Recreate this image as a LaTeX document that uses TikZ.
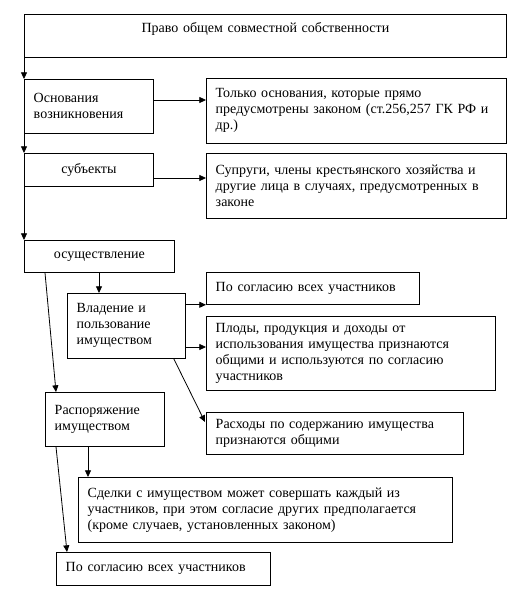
\documentclass[tikz,border=0pt]{standalone}
\usepackage{fontspec}
\setmainfont{Liberation Serif}
\usetikzlibrary{arrows.meta,calc}
\tikzset{
  box/.style={draw, line width=0.6pt, anchor=north west, inner xsep=7pt, inner ysep=2pt,
    align=left, font=\fontsize{10.5}{12}\selectfont},
  arr/.style={line width=0.6pt, -{Triangle[length=5pt,width=4.5pt]}}
}
\begin{document}
\begin{tikzpicture}[x=0.75pt,y=-0.75pt]
    \useasboundingbox (0,0) rectangle (525,599);
    % Title
    \node[box, align=center, text width=347.5pt, minimum height=32.25pt] (top) at (24,14)
        {Право общем совместной собственности\\ \mbox{}};
    % Left column
    \node[box, text width=82.75pt, minimum height=40.5pt] (osn) at (24,79) {Основания\\возникновения};
    \node[box, align=center, text width=82.75pt, minimum height=24.75pt] (subj) at (24,153) {субъекты};
    \node[box, align=center, text width=98.5pt, minimum height=24pt] (osush) at (24,240) {осуществление};
    \node[box, text width=74.5pt, minimum height=48.75pt] (vlad) at (67,293) {Владение и\\пользование\\имуществом};
    \node[box, text width=75.25pt, minimum height=40.5pt] (rasp) at (45,392) {Распоряжение\\имуществом};
    % Right column
    \node[box, text width=211pt, minimum height=48.75pt] (tolko) at (206,78)
        {Только основания, которые прямо\\предусмотрены законом (ст.256,257 ГК РФ и\\др.)};
    \node[box, text width=211pt, minimum height=48.75pt] (supr) at (206,153)
        {Супруги, члены крестьянского хозяйства и\\другие лица в случаях, предусмотренных в\\законе};
    \node[box, text width=145.75pt, minimum height=24pt] (soglas) at (206,272) {По согласию всех участников};
    \node[box, text width=202.75pt, minimum height=55.5pt] (plody) at (206,316)
        {Плоды, продукция и доходы от\\использования имущества признаются\\общими и используются по согласию\\участников};
    \node[box, text width=178.75pt, minimum height=31.5pt] (rashody) at (206,412)
        {Расходы по содержанию имущества\\признаются общими};
    % Bottom
    \node[box, text width=266.5pt, minimum height=48.75pt] (sdelki) at (78,477)
        {Сделки с имуществом может совершать каждый из\\участников, при этом согласие других предполагается\\(кроме случаев, установленных законом)};
    \node[box, text width=146.5pt, minimum height=24.75pt] (soglasb) at (56,552) {По согласию всех участников};
    % Trunk
    \draw[arr] (top.south west) -- (osn.north west);
    \draw[arr] (osn.south west) -- (subj.north west);
    \draw[arr] (subj.south west) -- (osush.north west);
    % Horizontal arrows
    \draw[arr] (osn.east |- 0,100) -- (tolko.west |- 0,100);
    \draw[arr] (subj.east |- 0,178) -- (supr.west |- 0,178);
    \draw[arr] (vlad.east |- soglas.south) -- (soglas.south west);
    \draw[arr] (vlad.east |- 0,347) -- (plody.west |- 0,347);
    % Branches
    \coordinate (v) at ($(vlad.north west)+(32,0)$);
    \draw[arr] (osush.south -| v) -- (v);
    \draw[arr] ($(osush.south west)+(21,0)$) -- ($(rasp.north west)+(11,0)$);
    \draw[arr] ($(vlad.south east)+(-12,0)$) -- ($(rashody.north west)+(-1,10)$);
    \coordinate (s) at ($(sdelki.north west)+(10,0)$);
    \draw[arr] (rasp.south -| s) -- (s);
    \draw[arr] ($(rasp.south west)+(11,0)$) -- ($(soglasb.north west)+(11,0)$);
\end{tikzpicture}
\end{document}
